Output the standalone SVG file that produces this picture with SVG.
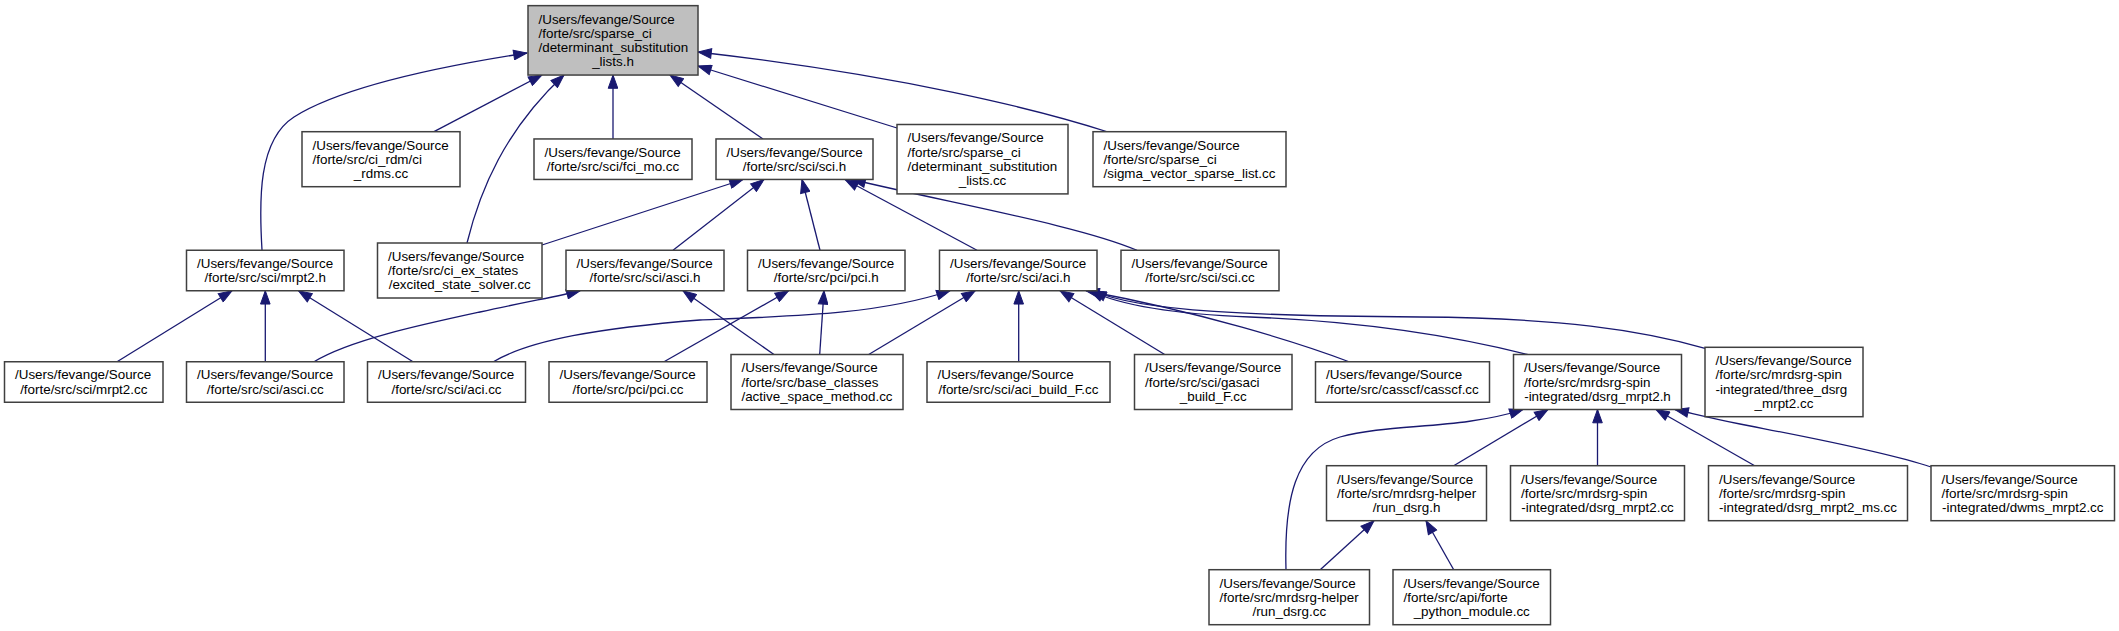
<svg xmlns="http://www.w3.org/2000/svg" width="2119" height="631" viewBox="0 0 2119 631">
<style>
.n rect{fill:#fff;stroke:#404040;stroke-width:1.5}
#n_main rect{fill:#bfbfbf}
text{font-family:"Liberation Sans",Arial,Helvetica,sans-serif;font-size:13.4px;fill:#000}
.c{text-anchor:middle}
.e path{fill:none;stroke:#191970;stroke-width:1.3;marker-end:url(#a)}
</style>
<defs>
<marker id="a" markerUnits="userSpaceOnUse" markerWidth="15" markerHeight="11" refX="13.3" refY="4.8" orient="auto" viewBox="-1 -1 15 11">
<path d="M0,0 L13.3,4.8 L0,9.6 z" fill="#191970" stroke="#191970" stroke-width="1"/>
</marker>
</defs>
<rect width="2119" height="631" fill="#fff"/>
<g class="e" id="edges">
<path d="M262,250 C259,200 258,140 294,117 C340,88 430,68 527,53"/>
<path d="M434,131.7 L542,75"/>
<path d="M467,243 C480,190 505,130 564,75"/>
<path d="M613,139 L613,75"/>
<path d="M763,139 L670,75"/>
<path d="M897,128 L698,66"/>
<path d="M1108,132 C1040,110 900,75 698,52"/>
<path d="M542,245 L743,179.5"/>
<path d="M673,250.25 L764,179.5"/>
<path d="M820,250.25 L802,179.5"/>
<path d="M977,250.25 L845,179.5"/>
<path d="M1137,250.25 C1080,226 960,205 852,179.5"/>
<path d="M117,361.75 L232,290.75"/>
<path d="M265.3,361.75 L265.3,290.75"/>
<path d="M413,361.75 L298.5,290.75"/>
<path d="M314,361.75 C350,340 420,325 480,312 C530,301 560,296 580,290.75"/>
<path d="M774,354.5 L683,290.75"/>
<path d="M664,361.75 L788.6,290.75"/>
<path d="M819.7,354.5 L824,290.75"/>
<path d="M493.4,361.75 C530,340 600,328 700,320 C800,316 880,314 950,290.75"/>
<path d="M868.7,354.5 L975.2,290.75"/>
<path d="M1018.7,361.75 L1018.7,290.75"/>
<path d="M1164.7,354.5 L1060,290.75"/>
<path d="M1349,361.75 C1300,343 1200,312 1086,290.75"/>
<path d="M1527.5,354.5 C1470,340 1380,322 1250,317 C1170,314 1120,305 1090,290.75"/>
<path d="M1705,348.3 C1640,330 1560,318 1420,317 C1260,316 1140,312 1093,290.75"/>
<path d="M1286,569.7 C1284,500 1295,450 1340,437 C1390,423 1460,430 1523,409.5"/>
<path d="M1453.7,465.7 L1548,409.5"/>
<path d="M1597.5,465.7 L1597.5,409.5"/>
<path d="M1754.7,465.7 L1656,409.5"/>
<path d="M1931,467 C1880,450 1780,432 1740,424 C1710,418 1695,414 1675,409.5"/>
<path d="M1320.2,569.7 L1374,520.7"/>
<path d="M1453.7,569.7 L1426,520.7"/>
</g>
<g class="n" id="n_main"><rect x="528" y="5.65" width="170" height="69.4"/><text x="538.5" y="23.5">/Users/fevange/Source</text><text x="538.5" y="37.8">/forte/src/sparse_ci</text><text x="538.5" y="52.1">/determinant_substitution</text><text class="c" x="613" y="66.4">_lists.h</text></g>
<g class="n" id="n_ci_rdms"><rect x="302" y="131.7" width="158" height="55"/><text x="312.5" y="149.5">/Users/fevange/Source</text><text x="312.5" y="163.8">/forte/src/ci_rdm/ci</text><text class="c" x="381" y="178.1">_rdms.cc</text></g>
<g class="n" id="n_fci_mo"><rect x="534" y="138.95" width="158" height="40.5"/><text x="544.5" y="156.65">/Users/fevange/Source</text><text class="c" x="613" y="170.95">/forte/src/sci/fci_mo.cc</text></g>
<g class="n" id="n_sci_h"><rect x="716" y="138.95" width="157" height="40.5"/><text x="726.5" y="156.65">/Users/fevange/Source</text><text class="c" x="794.5" y="170.95">/forte/src/sci/sci.h</text></g>
<g class="n" id="n_dsl_cc"><rect x="897" y="124.5" width="171" height="69.4"/><text x="907.5" y="142.35">/Users/fevange/Source</text><text x="907.5" y="156.65">/forte/src/sparse_ci</text><text x="907.5" y="170.95">/determinant_substitution</text><text class="c" x="982.5" y="185.25">_lists.cc</text></g>
<g class="n" id="n_sigma"><rect x="1093" y="131.7" width="193" height="55"/><text x="1103.5" y="149.5">/Users/fevange/Source</text><text x="1103.5" y="163.8">/forte/src/sparse_ci</text><text class="c" x="1189.5" y="178.1">/sigma_vector_sparse_list.cc</text></g>
<g class="n" id="n_mrpt2_h"><rect x="186.5" y="250.25" width="157.5" height="40.5"/><text x="197" y="267.95">/Users/fevange/Source</text><text class="c" x="265.25" y="282.25">/forte/src/sci/mrpt2.h</text></g>
<g class="n" id="n_excited"><rect x="377.5" y="243" width="164.5" height="55"/><text x="388" y="260.8">/Users/fevange/Source</text><text x="388" y="275.1">/forte/src/ci_ex_states</text><text class="c" x="459.75" y="289.4">/excited_state_solver.cc</text></g>
<g class="n" id="n_asci_h"><rect x="566" y="250.25" width="158" height="40.5"/><text x="576.5" y="267.95">/Users/fevange/Source</text><text class="c" x="645" y="282.25">/forte/src/sci/asci.h</text></g>
<g class="n" id="n_pci_h"><rect x="747.5" y="250.25" width="157.5" height="40.5"/><text x="758" y="267.95">/Users/fevange/Source</text><text class="c" x="826.25" y="282.25">/forte/src/pci/pci.h</text></g>
<g class="n" id="n_aci_h"><rect x="939.5" y="250.25" width="157.5" height="40.5"/><text x="950" y="267.95">/Users/fevange/Source</text><text class="c" x="1018.25" y="282.25">/forte/src/sci/aci.h</text></g>
<g class="n" id="n_sci_cc"><rect x="1121" y="250.25" width="158" height="40.5"/><text x="1131.5" y="267.95">/Users/fevange/Source</text><text class="c" x="1200" y="282.25">/forte/src/sci/sci.cc</text></g>
<g class="n" id="n_mrpt2_cc"><rect x="4.5" y="361.75" width="158.5" height="40.5"/><text x="15" y="379.45">/Users/fevange/Source</text><text class="c" x="83.75" y="393.75">/forte/src/sci/mrpt2.cc</text></g>
<g class="n" id="n_asci_cc"><rect x="186.5" y="361.75" width="157.5" height="40.5"/><text x="197" y="379.45">/Users/fevange/Source</text><text class="c" x="265.25" y="393.75">/forte/src/sci/asci.cc</text></g>
<g class="n" id="n_aci_cc"><rect x="367.5" y="361.75" width="158" height="40.5"/><text x="378" y="379.45">/Users/fevange/Source</text><text class="c" x="446.5" y="393.75">/forte/src/sci/aci.cc</text></g>
<g class="n" id="n_pci_cc"><rect x="549" y="361.75" width="158" height="40.5"/><text x="559.5" y="379.45">/Users/fevange/Source</text><text class="c" x="628" y="393.75">/forte/src/pci/pci.cc</text></g>
<g class="n" id="n_asm_cc"><rect x="731" y="354.5" width="172" height="55"/><text x="741.5" y="372.3">/Users/fevange/Source</text><text x="741.5" y="386.6">/forte/src/base_classes</text><text class="c" x="817" y="400.9">/active_space_method.cc</text></g>
<g class="n" id="n_acibf"><rect x="927" y="361.75" width="183" height="40.5"/><text x="937.5" y="379.45">/Users/fevange/Source</text><text class="c" x="1018.5" y="393.75">/forte/src/sci/aci_build_F.cc</text></g>
<g class="n" id="n_gasaci"><rect x="1134.5" y="354.5" width="157.5" height="55"/><text x="1145" y="372.3">/Users/fevange/Source</text><text x="1145" y="386.6">/forte/src/sci/gasaci</text><text class="c" x="1213.25" y="400.9">_build_F.cc</text></g>
<g class="n" id="n_casscf"><rect x="1315.5" y="361.75" width="174" height="40.5"/><text x="1326" y="379.45">/Users/fevange/Source</text><text class="c" x="1402.5" y="393.75">/forte/src/casscf/casscf.cc</text></g>
<g class="n" id="n_dsrg_h"><rect x="1513.5" y="354.5" width="168" height="55"/><text x="1524" y="372.3">/Users/fevange/Source</text><text x="1524" y="386.6">/forte/src/mrdsrg-spin</text><text class="c" x="1597.5" y="400.9">-integrated/dsrg_mrpt2.h</text></g>
<g class="n" id="n_three"><rect x="1705" y="347.3" width="158" height="69.4"/><text x="1715.5" y="365.15">/Users/fevange/Source</text><text x="1715.5" y="379.45">/forte/src/mrdsrg-spin</text><text x="1715.5" y="393.75">-integrated/three_dsrg</text><text class="c" x="1784" y="408.05">_mrpt2.cc</text></g>
<g class="n" id="n_rdsrg_h"><rect x="1326.5" y="465.7" width="160" height="55"/><text x="1337" y="483.5">/Users/fevange/Source</text><text x="1337" y="497.8">/forte/src/mrdsrg-helper</text><text class="c" x="1406.5" y="512.1">/run_dsrg.h</text></g>
<g class="n" id="n_dsrg_cc"><rect x="1510.5" y="465.7" width="174" height="55"/><text x="1521" y="483.5">/Users/fevange/Source</text><text x="1521" y="497.8">/forte/src/mrdsrg-spin</text><text class="c" x="1597.5" y="512.1">-integrated/dsrg_mrpt2.cc</text></g>
<g class="n" id="n_ms_cc"><rect x="1708.5" y="465.7" width="199" height="55"/><text x="1719" y="483.5">/Users/fevange/Source</text><text x="1719" y="497.8">/forte/src/mrdsrg-spin</text><text class="c" x="1808" y="512.1">-integrated/dsrg_mrpt2_ms.cc</text></g>
<g class="n" id="n_dwms"><rect x="1931" y="465.7" width="183.5" height="55"/><text x="1941.5" y="483.5">/Users/fevange/Source</text><text x="1941.5" y="497.8">/forte/src/mrdsrg-spin</text><text class="c" x="2022.75" y="512.1">-integrated/dwms_mrpt2.cc</text></g>
<g class="n" id="n_rdsrg_cc"><rect x="1209" y="569.7" width="160.5" height="55"/><text x="1219.5" y="587.5">/Users/fevange/Source</text><text x="1219.5" y="601.8">/forte/src/mrdsrg-helper</text><text class="c" x="1289.25" y="616.1">/run_dsrg.cc</text></g>
<g class="n" id="n_python"><rect x="1393" y="569.7" width="157.5" height="55"/><text x="1403.5" y="587.5">/Users/fevange/Source</text><text x="1403.5" y="601.8">/forte/src/api/forte</text><text class="c" x="1471.75" y="616.1">_python_module.cc</text></g>
</svg>
